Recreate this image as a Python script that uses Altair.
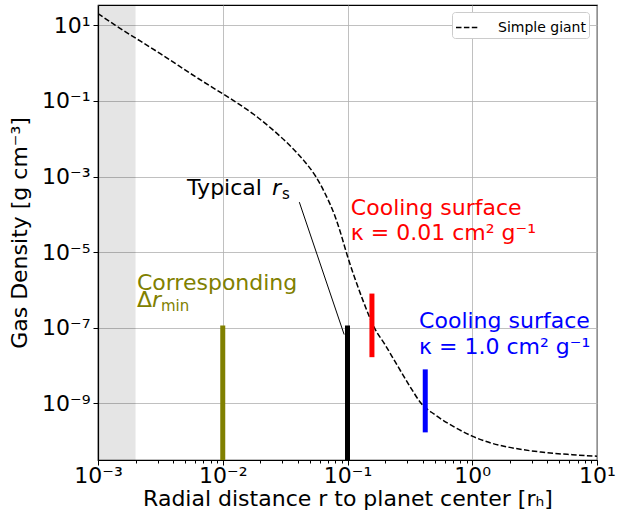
import math
import altair as alt
import pandas as pd

# ---------------- data ----------------
radius = [1.0e-3, 1.38e-3, 3.16e-3, 6.31e-3, 1.23e-2, 1.78e-2, 2.51e-2, 3.55e-2,
          4.47e-2, 5.57e-2, 6.61e-2, 7.94e-2, 8.91e-2, 9.77e-2, 0.112, 0.132,
          0.164, 0.200, 0.251, 0.316, 0.389, 0.501, 0.721, 1.0, 1.41, 1.95,
          3.55, 6.31, 10.0]
density = [20.4, 10.0, 1.78, 0.398, 0.1, 4.37e-2, 1.74e-2, 6.03e-3,
           2.63e-3, 1.0e-3, 3.55e-4, 8.91e-5, 2.82e-5, 1.0e-5, 2.51e-6, 5.62e-7,
           1.0e-7, 3.55e-8, 1.0e-8, 2.82e-9, 1.0e-9, 5.01e-10, 2.34e-10, 1.35e-10,
           8.91e-11, 6.92e-11, 5.13e-11, 4.37e-11, 3.98e-11]
series_name = "Simple giant"

x_domain = [1.0e-3, 1.0e1]
y_domain = [3.16e-11, 3.45e1]
band_x = [1.0e-3, 2.0e-3]

bar_group = ["olive", "black", "red", "blue"]
bar_x = [1.0e-2, 1.0e-1, 0.157, 0.42]
bar_top = [1.15e-7, 1.15e-7, 8.0e-7, 7.9e-9]
bar_bottom = [3.16e-11, 3.16e-11, 1.66e-8, 1.7e-10]

pointer_x = [0.0411, 0.094]
pointer_y = [2.1e-4, 6.6e-8]

label_text = ["Typical", "Cooling surface", "κ = 0.01 cm² g⁻¹",
              "Cooling surface", "κ = 1.0 cm² g⁻¹", "Corresponding", "Δ"]
label_x = [5.18e-3, 0.1064, 0.1064, 0.375, 0.375, 2.05e-3, 2.05e-3]
label_y = [3.18e-4, 9.42e-5, 2.05e-5, 9.8e-8, 2.07e-8, 1.02e-6, 3.47e-7]
label_group = ["black", "red", "red", "blue", "blue", "olive", "olive"]

x_major = [1e-3, 1e-2, 1e-1, 1e0, 1e1]
x_major_labels = ["10⁻³", "10⁻²", "10⁻¹", "10⁰", "10¹"]
x_minor = [m * 10.0 ** k for k in range(-3, 1) for m in range(2, 10)]
y_major = [1e1, 1e-1, 1e-3, 1e-5, 1e-7, 1e-9]
y_major_labels = ["10¹", "10⁻¹", "10⁻³", "10⁻⁵", "10⁻⁷", "10⁻⁹"]

group_domain = ["black", "red", "blue", "olive"]
group_colors = ["#000000", "#ff0000", "#0000ff", "#808000"]

FONT = "DejaVu Sans"


def label_expr(values, labels):
    parts = []
    for v, lab in zip(values, labels):
        e = round(math.log10(v))
        parts.append(f"abs(log(datum.value)/LN10 - ({e})) < 0.01 ? '{lab}'")
    return " : ".join(parts) + " : ''"


major_test = "abs(log(datum.value)/LN10 - round(log(datum.value)/LN10)) < 0.001"

xscale = alt.Scale(type="log", domain=x_domain, nice=False, padding=0)
yscale = alt.Scale(type="log", domain=y_domain, nice=False, padding=0)
cscale = alt.Scale(domain=group_domain, range=group_colors)

X = alt.X("x:Q", scale=xscale, title="Radial distance r to planet center [rₕ]",
          axis=alt.Axis(values=x_major + x_minor,
                        labelExpr=label_expr(x_major, x_major_labels),
                        labelFlush=False, labelOverlap=False,
                        tickSize={"condition": {"test": major_test, "value": 5}, "value": 3},
                        gridOpacity={"condition": {"test": major_test, "value": 1}, "value": 0},
                        labelPadding=0, titlePadding=2))
Y = alt.Y("y:Q", scale=yscale, title="Gas Density [g cm⁻³]",
          axis=alt.Axis(values=y_major, labelExpr=label_expr(y_major, y_major_labels),
                        labelFlush=False, labelOverlap=False,
                        tickSize=5, labelPadding=3, titlePadding=10))

band_df = pd.DataFrame({"x": [band_x[0]], "x2": [band_x[1]],
                        "y": [y_domain[1]], "y2": [y_domain[0]]})
band = alt.Chart(band_df).mark_rect(color="black", opacity=0.1).encode(
    x=X, x2="x2:Q", y=Y, y2="y2:Q")

curve_df = pd.DataFrame({"x": radius, "y": density, "series": series_name})
curve = alt.Chart(curve_df).mark_line(
    strokeDash=[5.5, 2.4], strokeWidth=1.5, interpolate="monotone", clip=True
).encode(
    x=X, y=Y,
    color=alt.Color("series:N", scale=alt.Scale(domain=[series_name], range=["black"]),
                    legend=alt.Legend(title=None, orient="none", legendX=354, legendY=7,
                                      symbolType="stroke", symbolDash=[5.5, 2.4],
                                      symbolStrokeWidth=1.5, symbolSize=529,
                                      labelFontSize=14, labelFont=FONT, labelColor="black",
                                      fillColor="white", strokeColor="#cccccc",
                                      padding=3, cornerRadius=3, labelOffset=18)),
)

bars_df = pd.DataFrame({"x": bar_x, "y": bar_top, "y2": bar_bottom, "g": bar_group})
bars = alt.Chart(bars_df).mark_rule(strokeWidth=5, clip=True).encode(
    x=X, y=Y, y2="y2:Q", color=alt.Color("g:N", scale=cscale, legend=None))

pointer_df = pd.DataFrame({"x": pointer_x, "y": pointer_y, "o": [0, 1]})
pointer = alt.Chart(pointer_df).mark_line(color="black", strokeWidth=1).encode(
    x=X, y=Y, order="o:Q")

labels_df = pd.DataFrame({"x": label_x, "y": label_y, "t": label_text, "g": label_group})
labels = alt.Chart(labels_df).mark_text(
    align="left", baseline="alphabetic", font=FONT, fontSize=22
).encode(x=X, y=Y, text="t:N", color=alt.Color("g:N", scale=cscale, legend=None))


def piece(i, txt, dx, dy, size, style):
    df = pd.DataFrame({"x": [label_x[i]], "y": [label_y[i]], "t": [txt], "g": [label_group[i]]})
    return alt.Chart(df).mark_text(
        align="left", baseline="alphabetic", font=FONT, fontSize=size,
        fontStyle=style, dx=dx, dy=dy
    ).encode(x=X, y=Y, text="t:N", color=alt.Color("g:N", scale=cscale, legend=None))


r_s_1 = piece(0, "r", 85, 0, 22, "italic")
r_s_2 = piece(0, "s", 95, 4, 15, "normal")
dr_1 = piece(6, "r", 15, 0, 22, "italic")
dr_2 = piece(6, "min", 24, 4, 15, "normal")

chart = alt.layer(band, curve, bars, pointer, labels, r_s_1, r_s_2, dr_1, dr_2).resolve_scale(
    color="independent"
).properties(
    width=499, height=455,
    autosize=alt.AutoSizeParams(type="none"),
    padding={"left": 98, "top": 5, "right": 20, "bottom": 59},
).configure_view(stroke="black", strokeWidth=1.2).configure_axis(
    labelFont=FONT, labelFontSize=22, labelColor="black",
    titleFont=FONT, titleFontSize=22, titleFontWeight="normal", titleColor="black",
    tickColor="black", domainColor="black", domainWidth=1.2,
    gridColor="#b0b0b0", gridWidth=0.8,
)

chart.save("out.html", embed_options={"renderer": "svg", "actions": False})
